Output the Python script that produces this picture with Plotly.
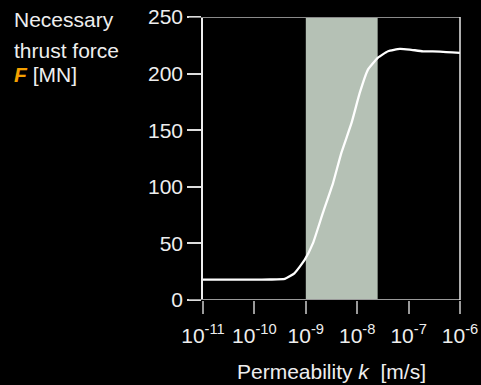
import plotly.graph_objects as go

# data
permeability = [1e-11, 1e-10, 2.0e-10, 3.9e-10, 6.0e-10, 9.5e-10, 1.38e-9, 2.14e-9, 3.39e-9,
                4.9e-9, 7.76e-9, 1.12e-8, 1.62e-8, 2.51e-8, 3.98e-8, 6.76e-8, 1.05e-7,
                1.9e-7, 4.07e-7, 1e-6]
thrust = [18, 18, 18.1, 18.6, 23.6, 35.4, 50.2, 76.7, 103.3, 129.8, 156.4, 182.9, 203.5,
          213.9, 219.7, 221.8, 221.2, 219.7, 219.5, 218.3]
shade_range = [1e-9, 2.5e-8]
x_tickvals = [1e-11, 1e-10, 1e-9, 1e-8, 1e-7, 1e-6]
x_ticktext = ["10<sup>-11</sup>", "10<sup>-10</sup>", "10<sup>-9</sup>", "10<sup>-8</sup>",
              "10<sup>-7</sup>", "10<sup>-6</sup>"]
y_tickvals = [0, 50, 100, 150, 200, 250]

FONT = "Liberation Sans, Arial, Helvetica, sans-serif"
FS = 21
L, R, T, B = 203, 21, 17, 85
W, H = 481, 385
pw = W - L - R
ph = H - T - B

fig = go.Figure()
fig.add_vrect(x0=shade_range[0], x1=shade_range[1], fillcolor="#b5c1b5", line_width=0,
              layer="below")
fig.add_trace(go.Scatter(x=permeability, y=thrust, mode="lines",
                         line=dict(color="white", width=2.3, shape="spline", smoothing=0.4),
                         hoverinfo="skip"))

# frame lines
ext = -14 / pw
fig.add_shape(type="line", xref="paper", yref="y", x0=ext, x1=1, y0=0, y1=0,
              line=dict(color="#9a9a9a", width=2), layer="above")
fig.add_shape(type="line", xref="paper", yref="y", x0=ext, x1=1, y0=250, y1=250,
              line=dict(color="#8a8a8a", width=2), layer="above")
fig.add_shape(type="line", xref="paper", yref="paper", x0=1, x1=1, y0=0, y1=1,
              line=dict(color="#e8e8e8", width=1.5), layer="above")

fig.update_xaxes(type="log", range=[-11, -6], tickvals=x_tickvals, ticktext=x_ticktext,
                 ticks="outside", ticklen=13, tickwidth=1.5, tickcolor="#9a9a9a",
                 ticklabelstandoff=4,
                 showgrid=False, zeroline=False, showline=False, automargin=False,
                 tickfont=dict(family=FONT, size=FS, color="#eeeeee"),
                 title=dict(text="Permeability <i>k</i>  [m/s]", standoff=18,
                            font=dict(family=FONT, size=FS, color="#eeeeee")))
fig.update_yaxes(range=[0, 250], tickvals=y_tickvals, ticks="outside", ticklen=14,
                 tickwidth=1.5, tickcolor="#dddddd", showgrid=False, zeroline=False,
                 showline=True, linecolor="#eeeeee", linewidth=1.5, automargin=False,
                 tickfont=dict(family=FONT, size=FS, color="#eeeeee"))

ylines = ["Necessary", "thrust force",
          "<b><i><span style='color:#f5a000'>F</span></i></b> [MN]"]
ypos = [19, 51, 74]
for txt, yp in zip(ylines, ypos):
    fig.add_annotation(text=txt, xref="paper", yref="paper",
                       x=(12 - L) / pw, y=1 - (yp - T) / ph,
                       xanchor="left", yanchor="middle", showarrow=False,
                       font=dict(family=FONT, size=FS, color="#eeeeee"))

fig.update_layout(width=W, height=H, margin=dict(l=L, r=R, t=T, b=B),
                  paper_bgcolor="black", plot_bgcolor="black", showlegend=False)
fig.write_html("out.html")
